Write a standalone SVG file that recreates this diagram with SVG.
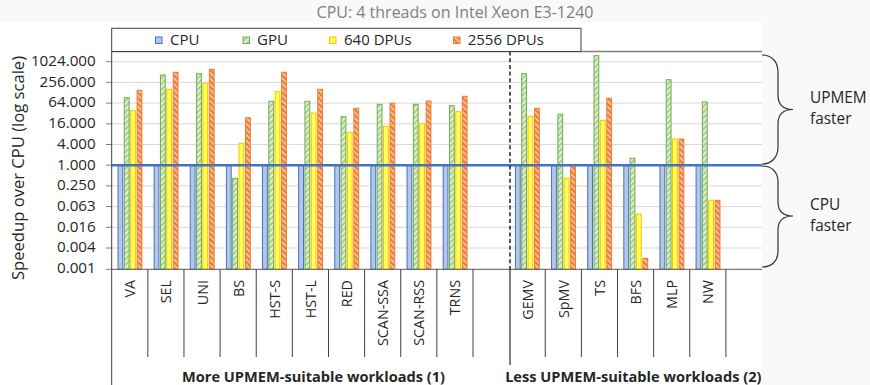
<svg xmlns="http://www.w3.org/2000/svg" width="870" height="385" viewBox="0 0 870 385">
<defs>
<pattern id="pg" patternUnits="userSpaceOnUse" width="4" height="4" patternTransform="rotate(45)">
<rect width="4" height="4" fill="#E2F0D9"/><rect width="2" height="4" fill="#A9D18E"/>
</pattern>
<pattern id="po" patternUnits="userSpaceOnUse" width="4" height="4" patternTransform="rotate(-45)">
<rect width="4" height="4" fill="#F8CBAD"/><rect width="2.3" height="4" fill="#ED7D31"/>
</pattern>
</defs>
<style>
text{font-family:"Open Sans","Liberation Sans",sans-serif;fill:#262626}
.cpu{fill:#B4C7E7;stroke:#4472C4;stroke-width:1}
.gpu{fill:url(#pg);stroke:#70AD47;stroke-width:1}
.d640{fill:#FFFF57;stroke:#FFC000;stroke-width:1}
.d2556{fill:url(#po);stroke:#ED7D31;stroke-width:1}
.grid{stroke:#D9D9D9;stroke-width:1}
.tick{stroke:#808080;stroke-width:1}
.sep{stroke:#404040;stroke-width:1}
.yl{font-size:15.2px;text-anchor:end}
.xl{font-size:14.3px;text-anchor:end}
.grp{font-size:14.6px;font-weight:bold;text-anchor:middle}
.side{font-size:15.4px}
.lg{font-size:15px}
.brace{fill:none;stroke:#333;stroke-width:1.2}
</style>
<rect width="870" height="385" fill="#F9F9F9"/>
<rect x="0" y="22" width="762" height="363" fill="#FFFFFF"/>
<text x="455" y="18" style="font-size:16px;fill:#808080" text-anchor="middle">CPU: 4 threads on Intel Xeon E3-1240</text>

<g id="grid">
<line class="grid" x1="111.7" y1="61.7" x2="762" y2="61.7"/>
<line class="grid" x1="111.7" y1="82.4" x2="762" y2="82.4"/>
<line class="grid" x1="111.7" y1="103.1" x2="762" y2="103.1"/>
<line class="grid" x1="111.7" y1="123.8" x2="762" y2="123.8"/>
<line class="grid" x1="111.7" y1="144.5" x2="762" y2="144.5"/>
<line class="grid" x1="111.7" y1="185.9" x2="762" y2="185.9"/>
<line class="grid" x1="111.7" y1="206.6" x2="762" y2="206.6"/>
<line class="grid" x1="111.7" y1="227.3" x2="762" y2="227.3"/>
<line class="grid" x1="111.7" y1="248" x2="762" y2="248"/>
<line class="tick" x1="106" y1="61.7" x2="111.7" y2="61.7"/>
<line class="tick" x1="106" y1="82.4" x2="111.7" y2="82.4"/>
<line class="tick" x1="106" y1="103.1" x2="111.7" y2="103.1"/>
<line class="tick" x1="106" y1="123.8" x2="111.7" y2="123.8"/>
<line class="tick" x1="106" y1="144.5" x2="111.7" y2="144.5"/>
<line class="tick" x1="106" y1="165.2" x2="111.7" y2="165.2"/>
<line class="tick" x1="106" y1="185.9" x2="111.7" y2="185.9"/>
<line class="tick" x1="106" y1="206.6" x2="111.7" y2="206.6"/>
<line class="tick" x1="106" y1="227.3" x2="111.7" y2="227.3"/>
<line class="tick" x1="106" y1="248" x2="111.7" y2="248"/>
<line class="tick" x1="106" y1="269.3" x2="111.7" y2="269.3"/>
</g>

<g id="yaxis-labels">
<text class="yl" x="95.7" y="66">1024.000</text>
<text class="yl" x="95.7" y="86.7">256.000</text>
<text class="yl" x="95.7" y="107.4">64.000</text>
<text class="yl" x="95.7" y="128.1">16.000</text>
<text class="yl" x="95.7" y="148.8">4.000</text>
<text class="yl" x="95.7" y="169.5">1.000</text>
<text class="yl" x="95.7" y="190.2">0.250</text>
<text class="yl" x="95.7" y="210.9">0.063</text>
<text class="yl" x="95.7" y="231.6">0.016</text>
<text class="yl" x="95.7" y="252.3">0.004</text>
<text class="yl" x="95.7" y="273.3">0.001</text>
<text transform="translate(23.5,168) rotate(-90)" style="font-size:16.6px" text-anchor="middle">Speedup over CPU (log scale)</text>
</g>

<g id="VA" transform="translate(111.7,0)">
<rect class="cpu" x="6.3" y="165" width="4.8" height="104.3"/>
<rect class="gpu" x="12.6" y="97.7" width="4.8" height="171.6"/>
<rect class="d640" x="18.9" y="110.7" width="4.8" height="158.6"/>
<rect class="d2556" x="25.4" y="90.3" width="4.8" height="179"/>
<text class="xl" transform="translate(23.6,280) rotate(-90)">VA</text>
</g>
<g id="SEL" transform="translate(147.83,0)">
<rect class="cpu" x="6.3" y="165" width="4.8" height="104.3"/>
<rect class="gpu" x="12.6" y="75" width="4.8" height="194.3"/>
<rect class="d640" x="18.9" y="89.3" width="4.8" height="180"/>
<rect class="d2556" x="25.4" y="72.3" width="4.8" height="197"/>
<text class="xl" transform="translate(23.6,280) rotate(-90)">SEL</text>
</g>
<g id="UNI" transform="translate(183.96,0)">
<rect class="cpu" x="6.3" y="165" width="4.8" height="104.3"/>
<rect class="gpu" x="12.6" y="73.7" width="4.8" height="195.6"/>
<rect class="d640" x="18.9" y="83.3" width="4.8" height="186"/>
<rect class="d2556" x="25.4" y="69.3" width="4.8" height="200"/>
<text class="xl" transform="translate(23.6,280) rotate(-90)">UNI</text>
</g>
<g id="BS" transform="translate(220.09,0)">
<rect class="cpu" x="6.3" y="165" width="4.8" height="104.3"/>
<rect class="gpu" x="12.6" y="178.3" width="4.8" height="91"/>
<rect class="d640" x="18.9" y="143.3" width="4.8" height="126"/>
<rect class="d2556" x="25.4" y="117.7" width="4.8" height="151.6"/>
<text class="xl" transform="translate(23.6,280) rotate(-90)">BS</text>
</g>
<g id="HST-S" transform="translate(256.22,0)">
<rect class="cpu" x="6.3" y="165" width="4.8" height="104.3"/>
<rect class="gpu" x="12.6" y="101.3" width="4.8" height="168"/>
<rect class="d640" x="18.9" y="91.7" width="4.8" height="177.6"/>
<rect class="d2556" x="25.4" y="72.3" width="4.8" height="197"/>
<text class="xl" transform="translate(23.6,280) rotate(-90)">HST-S</text>
</g>
<g id="HST-L" transform="translate(292.35,0)">
<rect class="cpu" x="6.3" y="165" width="4.8" height="104.3"/>
<rect class="gpu" x="12.6" y="101.3" width="4.8" height="168"/>
<rect class="d640" x="18.9" y="113" width="4.8" height="156.3"/>
<rect class="d2556" x="25.4" y="89.3" width="4.8" height="180"/>
<text class="xl" transform="translate(23.6,280) rotate(-90)">HST-L</text>
</g>
<g id="RED" transform="translate(328.48,0)">
<rect class="cpu" x="6.3" y="165" width="4.8" height="104.3"/>
<rect class="gpu" x="12.6" y="116.7" width="4.8" height="152.6"/>
<rect class="d640" x="18.9" y="132.3" width="4.8" height="137"/>
<rect class="d2556" x="25.4" y="108.3" width="4.8" height="161"/>
<text class="xl" transform="translate(23.6,280) rotate(-90)">RED</text>
</g>
<g id="SCAN-SSA" transform="translate(364.61,0)">
<rect class="cpu" x="6.3" y="165" width="4.8" height="104.3"/>
<rect class="gpu" x="12.6" y="104.3" width="4.8" height="165"/>
<rect class="d640" x="18.9" y="126.3" width="4.8" height="143"/>
<rect class="d2556" x="25.4" y="103.3" width="4.8" height="166"/>
<text class="xl" transform="translate(23.6,280) rotate(-90)">SCAN-SSA</text>
</g>
<g id="SCAN-RSS" transform="translate(400.74,0)">
<rect class="cpu" x="6.3" y="165" width="4.8" height="104.3"/>
<rect class="gpu" x="12.6" y="104.3" width="4.8" height="165"/>
<rect class="d640" x="18.9" y="123.7" width="4.8" height="145.6"/>
<rect class="d2556" x="25.4" y="101" width="4.8" height="168.3"/>
<text class="xl" transform="translate(23.6,280) rotate(-90)">SCAN-RSS</text>
</g>
<g id="TRNS" transform="translate(436.87,0)">
<rect class="cpu" x="6.3" y="165" width="4.8" height="104.3"/>
<rect class="gpu" x="12.6" y="105.7" width="4.8" height="163.6"/>
<rect class="d640" x="18.9" y="111.7" width="4.8" height="157.6"/>
<rect class="d2556" x="25.4" y="96.3" width="4.8" height="173"/>
<text class="xl" transform="translate(23.6,280) rotate(-90)">TRNS</text>
</g>
<g id="GEMV" transform="translate(509.13,0)">
<rect class="cpu" x="6.3" y="165" width="4.8" height="104.3"/>
<rect class="gpu" x="12.6" y="73.7" width="4.8" height="195.6"/>
<rect class="d640" x="18.9" y="116.3" width="4.8" height="153"/>
<rect class="d2556" x="25.4" y="108.3" width="4.8" height="161"/>
<text class="xl" transform="translate(23.6,280) rotate(-90)">GEMV</text>
</g>
<g id="SpMV" transform="translate(545.26,0)">
<rect class="cpu" x="6.3" y="165" width="4.8" height="104.3"/>
<rect class="gpu" x="12.6" y="114.3" width="4.8" height="155"/>
<rect class="d640" x="18.9" y="178.3" width="4.8" height="91"/>
<rect class="d2556" x="25.4" y="166.7" width="4.8" height="102.6"/>
<text class="xl" transform="translate(23.6,280) rotate(-90)">SpMV</text>
</g>
<g id="TS" transform="translate(581.39,0)">
<rect class="cpu" x="6.3" y="165" width="4.8" height="104.3"/>
<rect class="gpu" x="12.6" y="55.7" width="4.8" height="213.6"/>
<rect class="d640" x="18.9" y="120.3" width="4.8" height="149"/>
<rect class="d2556" x="25.4" y="98.3" width="4.8" height="171"/>
<text class="xl" transform="translate(23.6,280) rotate(-90)">TS</text>
</g>
<g id="BFS" transform="translate(617.52,0)">
<rect class="cpu" x="6.3" y="165" width="4.8" height="104.3"/>
<rect class="gpu" x="12.6" y="158.3" width="4.8" height="111"/>
<rect class="d640" x="18.9" y="214" width="4.8" height="55.3"/>
<rect class="d2556" x="25.4" y="258.3" width="4.8" height="11"/>
<text class="xl" transform="translate(23.6,280) rotate(-90)">BFS</text>
</g>
<g id="MLP" transform="translate(653.65,0)">
<rect class="cpu" x="6.3" y="165" width="4.8" height="104.3"/>
<rect class="gpu" x="12.6" y="79.7" width="4.8" height="189.6"/>
<rect class="d640" x="18.9" y="139" width="4.8" height="130.3"/>
<rect class="d2556" x="25.4" y="139" width="4.8" height="130.3"/>
<text class="xl" transform="translate(23.6,280) rotate(-90)">MLP</text>
</g>
<g id="NW" transform="translate(689.78,0)">
<rect class="cpu" x="6.3" y="165" width="4.8" height="104.3"/>
<rect class="gpu" x="12.6" y="102" width="4.8" height="167.3"/>
<rect class="d640" x="18.9" y="200.3" width="4.8" height="69"/>
<rect class="d2556" x="25.4" y="200.3" width="4.8" height="69"/>
<text class="xl" transform="translate(23.6,280) rotate(-90)">NW</text>
</g>

<g id="axes">
<line x1="111.7" y1="51.5" x2="762" y2="51.5" stroke="#808080" stroke-width="1.3"/>
<line x1="111.7" y1="165.3" x2="762" y2="165.3" stroke="#4472C4" stroke-width="2.5"/>
<line x1="111.7" y1="269.3" x2="762" y2="269.3" stroke="#595959" stroke-width="1"/>
<line x1="111.7" y1="51.5" x2="111.7" y2="385" stroke="#404040" stroke-width="1"/>
<line x1="510" y1="51.5" x2="510" y2="269.3" stroke="#000" stroke-width="1.3" stroke-dasharray="4,2.7"/>
<line x1="510" y1="269.3" x2="510" y2="365" stroke="#000" stroke-width="1"/>
<line class="sep" x1="147.83" y1="269.3" x2="147.83" y2="357"/>
<line class="sep" x1="183.96" y1="269.3" x2="183.96" y2="357"/>
<line class="sep" x1="220.09" y1="269.3" x2="220.09" y2="357"/>
<line class="sep" x1="256.22" y1="269.3" x2="256.22" y2="357"/>
<line class="sep" x1="292.35" y1="269.3" x2="292.35" y2="357"/>
<line class="sep" x1="328.48" y1="269.3" x2="328.48" y2="357"/>
<line class="sep" x1="364.61" y1="269.3" x2="364.61" y2="357"/>
<line class="sep" x1="400.74" y1="269.3" x2="400.74" y2="357"/>
<line class="sep" x1="436.87" y1="269.3" x2="436.87" y2="357"/>
<line class="sep" x1="473" y1="269.3" x2="473" y2="357"/>
<line class="sep" x1="545.26" y1="269.3" x2="545.26" y2="357"/>
<line class="sep" x1="581.39" y1="269.3" x2="581.39" y2="357"/>
<line class="sep" x1="617.52" y1="269.3" x2="617.52" y2="357"/>
<line class="sep" x1="653.65" y1="269.3" x2="653.65" y2="357"/>
<line class="sep" x1="689.78" y1="269.3" x2="689.78" y2="357"/>
<line class="sep" x1="725.91" y1="269.3" x2="725.91" y2="357"/>
</g>

<g id="group-labels">
<text class="grp" x="313.5" y="381.5">More UPMEM-suitable workloads (1)</text>
<text class="grp" x="633.3" y="381.5">Less UPMEM-suitable workloads (2)</text>
</g>

<g id="legend">
<rect x="111.7" y="28.3" width="469.3" height="23.2" fill="#FFFFFF" stroke="#404040" stroke-width="1"/>
<rect class="cpu" x="155.5" y="37" width="6.5" height="6.5"/>
<text class="lg" x="170" y="45">CPU</text>
<rect class="gpu" x="243" y="37" width="6.5" height="6.5"/>
<text class="lg" x="257" y="45">GPU</text>
<rect class="d640" x="329.5" y="37" width="6.5" height="6.5"/>
<text class="lg" x="344" y="45">640 DPUs</text>
<rect class="d2556" x="453.5" y="37" width="6.5" height="6.5"/>
<text class="lg" x="467.7" y="45">2556 DPUs</text>
</g>

<g id="upmem-faster">
<path class="brace" d="M762,55 C772,55 778,62 778,72 L778,95 C778,104 783,109.5 793,109.5 C783,109.5 778,115 778,124 L778,147 C778,157 772,164 762,164"/>
<text class="side" x="810" y="102.5">UPMEM</text>
<text class="side" x="810" y="124">faster</text>
</g>
<g id="cpu-faster">
<path class="brace" d="M762,166 C772,166 778,172 778,182 L778,202 C778,211 783,216 793,216 C783,216 778,221 778,230 L778,251 C778,261 772,267 762,267"/>
<text class="side" x="810" y="209.5">CPU</text>
<text class="side" x="810" y="231">faster</text>
</g>
</svg>
